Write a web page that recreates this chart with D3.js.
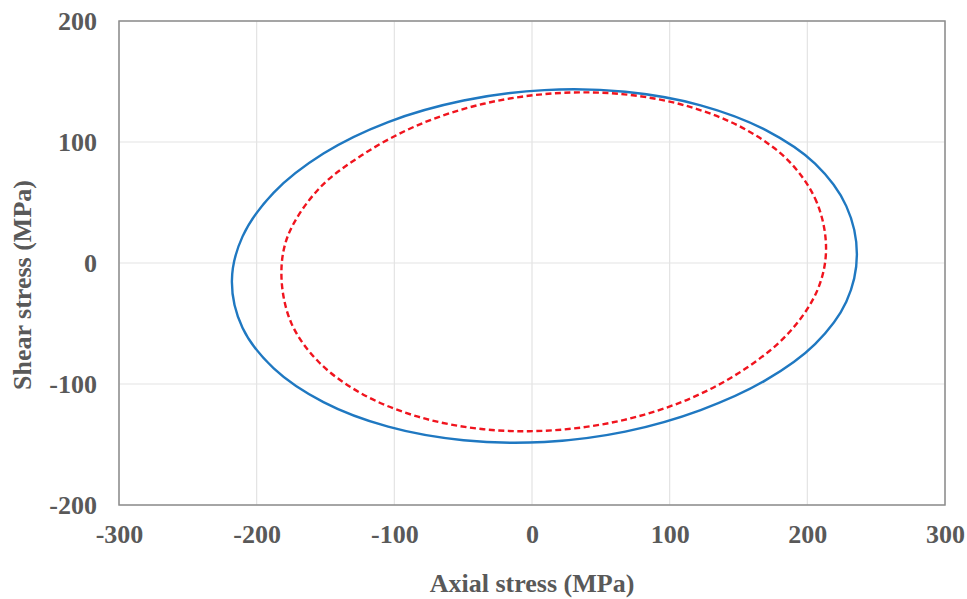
<!DOCTYPE html>
<html lang="en">
  <head>
    <meta charset="UTF-8" />
    <title>Stress ellipses</title>
    <style>
      body { margin: 0; background: #fff; }
      svg { display: block; }
      text { font-family: "Liberation Serif", "Times New Roman", serif; font-weight: bold; fill: #595959; }
    </style>
  </head>
  <body>
    <script src="https://d3js.org/d3.v7.min.js"></script>
    <script>
// tick labels
var xTicks = [-300, -200, -100, 0, 100, 200, 300];
var yTicks = [-200, -100, 0, 100, 200];

// outer curve (blue, solid)
var blueX = [236, 228.3, 205.6, 169.5, 122.5, 67.7, 9, -49.7, -104.5, -151.5, -187.6, -210.3,
  -218, -210.3, -187.6, -151.5, -104.5, -49.7, 9, 67.7, 122.5, 169.5, 205.6, 228.3];
var blueY = [7, 47, 82.1, 110, 130.3, 141.5, 142.9, 134.3, 116.5, 90.5, 58.2, 21.8,
  -15, -53.5, -87.1, -115, -135.3, -146.5, -147.9, -139.3, -121.5, -97, -67, -32];

// inner curve (red, dashed)
var redX = [213.6, 206.9, 187.1, 155.7, 114.8, 67.1, 16, -35.1, -82.8, -123.7, -155.1, -177.3,
  -182, -174.9, -155.1, -123.7, -82.8, -35.1, 16, 67.1, 114.8, 155.7, 187.1, 207.5];
var redY = [12, 50, 83.6, 110, 129, 139.4, 140.2, 131.6, 114, 89, 61, 22.5,
  -11, -49.5, -81.6, -108, -127, -137.4, -138.2, -129.6, -112, -86.8, -57, -22];

var width = 967, height = 599;
var margin = {left: 119, right: 22, top: 21, bottom: 94};

var svg = d3.select("body").append("svg")
  .attr("width", width)
  .attr("height", height);

var x = d3.scaleLinear().domain([-300, 300]).range([margin.left, width - margin.right]);
var y = d3.scaleLinear().domain([-200, 200]).range([height - margin.bottom, margin.top]);

// grid
svg.append("g").selectAll("line")
  .data(xTicks)
  .enter().append("line")
  .attr("x1", d => x(d)).attr("x2", d => x(d))
  .attr("y1", y(200)).attr("y2", y(-200))
  .attr("stroke", "#e3e3e3").attr("stroke-width", 1.2);

svg.append("g").selectAll("line")
  .data(yTicks)
  .enter().append("line")
  .attr("x1", x(-300)).attr("x2", x(300))
  .attr("y1", d => y(d)).attr("y2", d => y(d))
  .attr("stroke", "#e3e3e3").attr("stroke-width", 1.2);

// frame
svg.append("rect")
  .attr("x", x(-300)).attr("y", y(200))
  .attr("width", x(300) - x(-300)).attr("height", y(-200) - y(200))
  .attr("fill", "none").attr("stroke", "#8c8c8c").attr("stroke-width", 1.5);

// tick labels (axes without lines), plain hyphen for negatives
var xAxis = svg.append("g")
  .attr("transform", "translate(0," + y(-200) + ")")
  .call(d3.axisBottom(x).tickValues(xTicks).tickFormat(d => String(d)).tickSize(0).tickPadding(20));
var yAxis = svg.append("g")
  .attr("transform", "translate(" + x(-300) + ",0)")
  .call(d3.axisLeft(y).tickValues(yTicks).tickFormat(d => String(d)).tickSize(0).tickPadding(22));
[xAxis, yAxis].forEach(function(a) {
  a.select(".domain").remove();
  a.selectAll("text")
    .style("font-size", "26px")
    .attr("fill", "#595959");
  a.attr("font-family", null);
});

// curves
var line = d3.line()
  .x(d => x(d[0]))
  .y(d => y(d[1]))
  .curve(d3.curveCatmullRomClosed);

svg.append("path")
  .datum(blueX.map((v, i) => [v, blueY[i]]))
  .attr("d", line)
  .attr("fill", "none")
  .attr("stroke", "#1f78c1")
  .attr("stroke-width", 2.4);

svg.append("path")
  .datum(redX.map((v, i) => [v, redY[i]]))
  .attr("d", line)
  .attr("fill", "none")
  .attr("stroke", "#f0141e")
  .attr("stroke-width", 2.4)
  .attr("stroke-dasharray", "6,3.5");

// axis titles
svg.append("text")
  .attr("x", (x(-300) + x(300)) / 2)
  .attr("y", 592)
  .attr("text-anchor", "middle")
  .style("font-size", "26px")
  .text("Axial stress (MPa)");

svg.append("text")
  .attr("transform", "translate(31,285) rotate(-90)")
  .attr("text-anchor", "middle")
  .style("font-size", "26px")
  .text("Shear stress (MPa)");
</script>
  </body>
</html>
